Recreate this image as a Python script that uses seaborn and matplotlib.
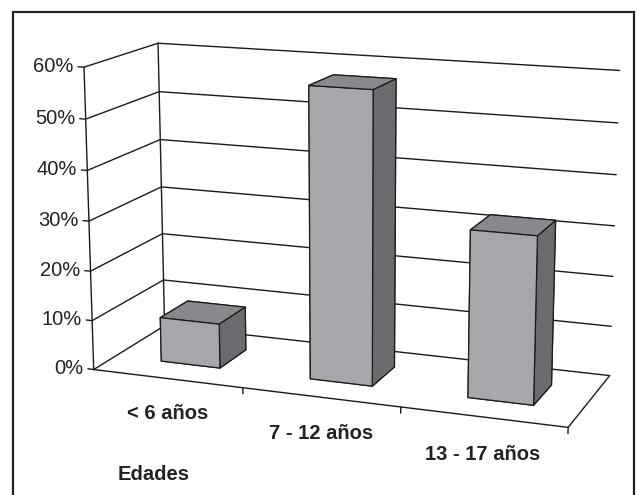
import numpy as np
import matplotlib
matplotlib.use("Agg")
import matplotlib.pyplot as plt
import seaborn as sns

sns.set_theme(style="white")
plt.rcParams['font.family'] = ['Liberation Sans', 'DejaVu Sans']

# data
categories = ['< 6 años', '7 - 12 años', '13 - 17 años']
values = [0.09, 0.575, 0.325]
yticks = [0.0, 0.1, 0.2, 0.3, 0.4, 0.5, 0.6]
ytick_labels = ['0%', '10%', '20%', '30%', '40%', '50%', '60%']
axis_title = 'Edades'

front_c = '#a6a7aa'
top_c = '#88898c'
side_c = '#6a6b6f'
line_c = '#1a1a1a'
text_c = '#222222'

fig = plt.figure(figsize=(6.37, 4.95), dpi=100)
fig.patch.set_facecolor('white')
ax = fig.add_axes([0.0397, 0.035, 1, 1], projection='3d', proj_type='persp',
                  focal_length=0.75, computed_zorder=False)
ax.view_init(elev=13.8, azim=-69.4)

n = len(categories)
depth = 1.0
zmax = yticks[-1]
ax.set_xlim(0, n)
ax.set_ylim(0, depth)
ax.set_zlim(0, zmax)
ax.set_box_aspect((n, depth, 1.88), zoom=1.20)
ax.set_axis_off()
for a in (ax.xaxis, ax.yaxis, ax.zaxis):
    a.label.set_visible(False)
    a.offsetText.set_visible(False)

lw = 1.0
# walls: gridlines on the left and back wall
for z in yticks:
    ax.plot([0, 0], [0, depth], [z, z], color=line_c, lw=lw, zorder=1, clip_on=False)
    ax.plot([0, n], [depth, depth], [z, z], color=line_c, lw=lw, zorder=1, clip_on=False)
ax.plot([0, 0], [depth, depth], [0, zmax], color=line_c, lw=lw, zorder=1, clip_on=False)
ax.plot([0, 0], [0, 0], [0, zmax], color=line_c, lw=lw, zorder=1, clip_on=False)

# bars
bw = 0.4
bd = 0.4
xs = np.arange(n) + 0.515 - bw / 2
ys = np.full(n, depth / 2 - bd / 2)
face_cols = []
for _ in range(n):
    face_cols += [front_c, top_c, front_c, front_c, side_c, side_c]
bars = ax.bar3d(xs, ys, np.zeros(n), bw, bd, values, color=face_cols, shade=False,
                edgecolor=line_c, linewidth=0.9, zorder=2)
bars.set_clip_on(False)

# floor front and right edge
ax.plot([0, n], [0, 0], [0, 0], color=line_c, lw=lw, zorder=3, clip_on=False)
ax.plot([n, n], [0, depth], [0, 0], color=line_c, lw=lw, zorder=3, clip_on=False)

# ticks and labels
for z, lab in zip(yticks, ytick_labels):
    ax.plot([0, -0.04], [0, 0], [z, z], color=line_c, lw=lw, zorder=3, clip_on=False)
    ax.text(-0.07, 0, z, lab, ha='right', va='center', fontsize=14.5,
            color=text_c, zorder=4, clip_on=False)
for i in range(1, n + 1):
    ax.plot([i, i], [0, 0], [0, -0.012], color=line_c, lw=lw, zorder=3, clip_on=False)
for i, lab in enumerate(categories):
    ax.text(i + 0.5, 0, -0.072, lab, ha='center', va='center', fontsize=14.5,
            fontweight='bold', color=text_c, zorder=4, clip_on=False)

fig.text(154 / 637, 1 - 474 / 495, axis_title, ha='center', va='center',
         fontsize=14.5, fontweight='bold', color=text_c)

# outer frame
fig.add_artist(plt.Rectangle((13 / 637, -0.02), (634 - 13) / 637, 1 - 12 / 495 + 0.02,
                             transform=fig.transFigure, fill=False,
                             edgecolor=text_c, linewidth=1.6))

fig.savefig('out.png', dpi=100)
